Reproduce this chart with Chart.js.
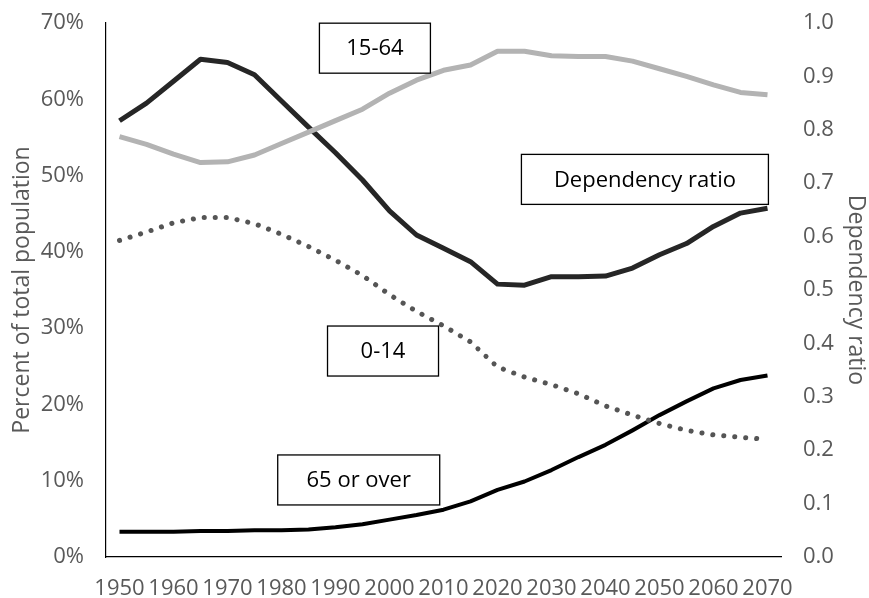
<!DOCTYPE html>
<html>
<head>
<meta charset="utf-8">
<script src="https://cdn.jsdelivr.net/npm/chart.js@4.4.1/dist/chart.umd.min.js"></script>
<style>
  html, body { margin: 0; padding: 0; background: #fff; }
  #wrap { width: 869px; height: 598px; position: relative; }
</style>
</head>
<body>
<div id="wrap"><canvas id="chart"></canvas></div>
<script>
const years = ['1950','1955','1960','1965','1970','1975','1980','1985','1990','1995','2000','2005','2010',
  '2015','2020','2025','2030','2035','2040','2045','2050','2055','2060','2065','2070'];

// percent of total population (left axis)
const age15to64 = [55.1, 54.1, 52.8, 51.7, 51.8, 52.7, 54.2, 55.7, 57.2, 58.7, 60.8, 62.5, 63.8,
  64.5, 66.3, 66.3, 65.7, 65.6, 65.6, 65.0, 64.0, 63.0, 61.9, 60.9, 60.6];
const age0to14 = [41.5, 42.6, 43.8, 44.5, 44.5, 43.7, 42.3, 40.7, 38.9, 36.9, 34.4, 32.2, 30.3,
  28.2, 24.9, 23.6, 22.6, 21.4, 19.8, 18.6, 17.5, 16.6, 16.0, 15.7, 15.4];
const age65plus = [3.3, 3.3, 3.3, 3.4, 3.4, 3.5, 3.5, 3.6, 3.9, 4.3, 4.9, 5.5, 6.2,
  7.3, 8.8, 9.9, 11.4, 13.1, 14.7, 16.6, 18.6, 20.4, 22.1, 23.2, 23.8];

// dependency ratio (right axis)
const depRatio = [0.817, 0.850, 0.891, 0.932, 0.926, 0.903, 0.854, 0.805, 0.757, 0.706, 0.648, 0.603, 0.578,
  0.553, 0.511, 0.509, 0.525, 0.525, 0.526, 0.541, 0.566, 0.587, 0.619, 0.644, 0.653];

const leftTicks = [0, 10, 20, 30, 40, 50, 60, 70];
const rightTicks = [0, 0.1, 0.2, 0.3, 0.4, 0.5, 0.6, 0.7, 0.8, 0.9, 1.0];

// text boxes, anchored in data units (year, percent)
const boxLabels = ['15-64', 'Dependency ratio', '0-14', '65 or over'];
const boxYears = [1997.3, 2047.3, 1998.8, 1994.3];
const boxPcts = [66.7, 49.5, 27.0, 10.1];
const boxWidths = [111, 247, 111, 162];

const FONT = '"Open Sans", "Liberation Sans", sans-serif';
const TICK = '#595959';

const boxPlugin = {
  id: 'boxLabels',
  afterDatasetsDraw(chart) {
    const { ctx, scales } = chart;
    const x = scales.x, y = scales.y;
    const step = x.getPixelForValue(1) - x.getPixelForValue(0);
    ctx.save();
    ctx.font = '22px ' + FONT;
    ctx.textAlign = 'center';
    ctx.textBaseline = 'middle';
    boxLabels.forEach((txt, i) => {
      const cx = x.getPixelForValue(0) + (boxYears[i] - 1950) / 5 * step;
      const cy = y.getPixelForValue(boxPcts[i]);
      const w = boxWidths[i], h = 50;
      ctx.fillStyle = '#fff';
      ctx.fillRect(cx - w / 2, cy - h / 2, w, h);
      ctx.strokeStyle = '#000';
      ctx.lineWidth = 1.3;
      ctx.strokeRect(cx - w / 2, cy - h / 2, w, h);
      ctx.fillStyle = '#000';
      ctx.fillText(txt, cx, cy + 1);
    });
    ctx.restore();
  }
};

// drop the label-driven vertical padding so the plot spans the full height
const noVPad = (s, w) => { s.width = w; s.paddingTop = 0; s.paddingBottom = 0; };

new Chart(document.getElementById('chart'), {
  type: 'line',
  data: {
    labels: years,
    datasets: [
      { label: '15-64', data: age15to64, yAxisID: 'y', borderColor: '#b3b3b3', borderWidth: 5 },
      { label: '0-14', data: age0to14, yAxisID: 'y', borderColor: '#555555', borderWidth: 5,
        borderDash: [0.1, 10.9], borderCapStyle: 'round' },
      { label: '65 or over', data: age65plus, yAxisID: 'y', borderColor: '#000', borderWidth: 4 },
      { label: 'Dependency ratio', data: depRatio, yAxisID: 'y2', borderColor: '#262626', borderWidth: 5 }
    ]
  },
  options: {
    responsive: true,
    maintainAspectRatio: false,
    animation: false,
    layout: { padding: { top: 23, left: 0, right: 0, bottom: 0 } },
    elements: { point: { radius: 0 }, line: { tension: 0, borderJoinStyle: 'round' } },
    plugins: { legend: { display: false }, tooltip: { enabled: false } },
    scales: {
      x: {
        offset: true,
        grid: { display: false, drawTicks: false },
        border: { color: '#000', width: 1.2 },
        ticks: {
          autoSkip: false, maxRotation: 0, padding: 19, color: TICK,
          font: { family: FONT, size: 22 },
          callback: (v, i) => (i % 2 === 0 ? years[i] : '')
        },
        afterFit: (s) => { s.height = 41; }
      },
      y: {
        position: 'left', min: 0, max: 70,
        grid: { display: false, drawTicks: false },
        border: { color: '#000', width: 1.2 },
        afterBuildTicks: (s) => { s.ticks = leftTicks.map(v => ({ value: v })); },
        ticks: { padding: 22, color: TICK, font: { family: FONT, size: 22 }, callback: v => v + '%' },
        title: { display: true, text: 'Percent of total population', color: TICK,
          font: { family: FONT, size: 23 }, padding: { top: 9, bottom: 0 } },
        afterFit: (s) => noVPad(s, 106)
      },
      y2: {
        position: 'right', min: 0, max: 1,
        grid: { display: false, drawTicks: false },
        border: { display: false },
        afterBuildTicks: (s) => { s.ticks = rightTicks.map(v => ({ value: v })); },
        ticks: { padding: 22, color: TICK, font: { family: FONT, size: 22 }, callback: v => v.toFixed(1) },
        title: { display: true, text: 'Dependency ratio', color: TICK,
          font: { family: FONT, size: 23 }, padding: { top: 0, bottom: 0 } },
        afterFit: (s) => noVPad(s, 88)
      }
    }
  },
  plugins: [boxPlugin]
});
</script>
</body>
</html>
